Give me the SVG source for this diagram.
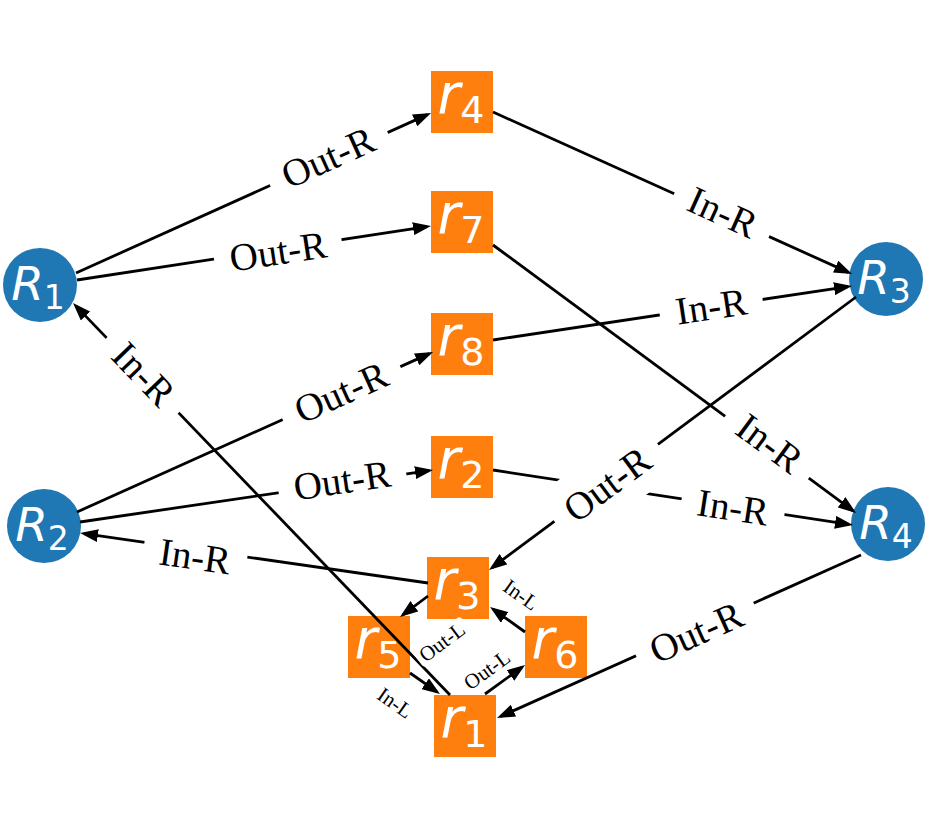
<svg xmlns="http://www.w3.org/2000/svg" width="931" height="821" viewBox="0 0 931 821">
<style>
.e{stroke:#000;stroke-width:2.8;fill:none;marker-end:url(#ah)}
.bx{fill:#fff;stroke:none}
.lb{font-family:"Liberation Serif","Times New Roman",serif;font-size:39px;fill:#000;text-anchor:middle;dominant-baseline:central}
.ls{font-family:"Liberation Serif","Times New Roman",serif;font-size:21px;fill:#000;text-anchor:middle;dominant-baseline:central}
.cn{fill:#1f77b4}
.sq{fill:#ff7f0e}
.nt{font-family:"DejaVu Sans",sans-serif;fill:#fff;text-anchor:middle}
.it{font-style:italic}
</style>
<defs>
<marker id="ah" markerWidth="18" markerHeight="13" refX="14" refY="6.5" orient="auto" markerUnits="userSpaceOnUse">
<path d="M0,0 L18,6.5 L0,13 z" fill="#000"/>
</marker>
</defs>
<g id="R1"><circle class="cn" cx="40" cy="285" r="37"/><text class="nt" x="38" y="300" font-size="47"><tspan class="it">R</tspan><tspan font-size="33" dy="9">1</tspan></text></g>
<g id="R2"><circle class="cn" cx="44" cy="526" r="37"/><text class="nt" x="42" y="541" font-size="47"><tspan class="it">R</tspan><tspan font-size="33" dy="9">2</tspan></text></g>
<g id="R3"><circle class="cn" cx="886" cy="279" r="37"/><text class="nt" x="884" y="294" font-size="47"><tspan class="it">R</tspan><tspan font-size="33" dy="9">3</tspan></text></g>
<g id="R4"><circle class="cn" cx="888" cy="524" r="37"/><text class="nt" x="886" y="539" font-size="47"><tspan class="it">R</tspan><tspan font-size="33" dy="9">4</tspan></text></g>
<g id="r4"><rect class="sq" x="431" y="71" width="62" height="62"/><text class="nt" x="461" y="113" font-size="55"><tspan class="it">r</tspan><tspan font-size="38" dy="10">4</tspan></text></g>
<g id="r7"><rect class="sq" x="431" y="191" width="62" height="62"/><text class="nt" x="461" y="233" font-size="55"><tspan class="it">r</tspan><tspan font-size="38" dy="10">7</tspan></text></g>
<g id="r8"><rect class="sq" x="431" y="313" width="62" height="62"/><text class="nt" x="461" y="355" font-size="55"><tspan class="it">r</tspan><tspan font-size="38" dy="10">8</tspan></text></g>
<g id="r2"><rect class="sq" x="431" y="436" width="62" height="62"/><text class="nt" x="461" y="478" font-size="55"><tspan class="it">r</tspan><tspan font-size="38" dy="10">2</tspan></text></g>
<g id="r3"><rect class="sq" x="427" y="557" width="62" height="62"/><text class="nt" x="457" y="599" font-size="55"><tspan class="it">r</tspan><tspan font-size="38" dy="10">3</tspan></text></g>
<g id="r5"><rect class="sq" x="348" y="616" width="62" height="62"/><text class="nt" x="378" y="658" font-size="55"><tspan class="it">r</tspan><tspan font-size="38" dy="10">5</tspan></text></g>
<g id="r6"><rect class="sq" x="525" y="616" width="62" height="62"/><text class="nt" x="555" y="658" font-size="55"><tspan class="it">r</tspan><tspan font-size="38" dy="10">6</tspan></text></g>
<g id="r1"><rect class="sq" x="434" y="695" width="62" height="62"/><text class="nt" x="464" y="737" font-size="55"><tspan class="it">r</tspan><tspan font-size="38" dy="10">1</tspan></text></g>
<g id="edges">
<line class="e" x1="76" y1="273" x2="427.4" y2="114.6"/>
<line class="e" x1="77" y1="280" x2="427" y2="226.6"/>
<line class="e" x1="493" y1="112" x2="848.4" y2="272.4"/>
<line class="e" x1="493" y1="245" x2="852.8" y2="510.6"/>
<line class="e" x1="493" y1="340" x2="848" y2="286.6"/>
<line class="e" x1="77" y1="512" x2="429.4" y2="353.6"/>
<line class="e" x1="80" y1="522" x2="429" y2="470.6"/>
<line class="e" x1="493" y1="470" x2="849" y2="524.4"/>
<line class="e" x1="856" y1="297" x2="492.2" y2="567.6"/>
<line class="e" x1="428" y1="583" x2="84" y2="533.6"/>
<line class="e" x1="450" y1="695" x2="75.8" y2="305.9"/>
<line class="e" x1="861" y1="555" x2="500.7" y2="716.4"/>
<line class="e" x1="428" y1="596" x2="403.2" y2="614.6"/>
<line class="e" x1="410" y1="673" x2="436.7" y2="691.7"/>
<line class="e" x1="485" y1="694" x2="521.8" y2="667.3"/>
<line class="e" x1="525" y1="632" x2="493.3" y2="609.3"/>
</g>
<g id="edge-labels">
<g transform="translate(328,157) rotate(-24.3)"><rect class="bx" x="-64.5" y="-32" width="129" height="64" rx="12"/><text class="lb">Out-R</text></g>
<g transform="translate(278,251) rotate(-8.7)"><rect class="bx" x="-64.5" y="-32" width="129" height="64" rx="12"/><text class="lb">Out-R</text></g>
<g transform="translate(723,212) rotate(24.3)"><rect class="bx" x="-52" y="-32" width="104" height="64" rx="12"/><text class="lb">In-R</text></g>
<g transform="translate(770,443) rotate(36.4)"><rect class="bx" x="-52" y="-32" width="104" height="64" rx="12"/><text class="lb">In-R</text></g>
<g transform="translate(711,306) rotate(-8.6)"><rect class="bx" x="-52" y="-32" width="104" height="64" rx="12"/><text class="lb">In-R</text></g>
<g transform="translate(341,392) rotate(-24.2)"><rect class="bx" x="-64.5" y="-32" width="129" height="64" rx="12"/><text class="lb">Out-R</text></g>
<g transform="translate(342,480) rotate(-8.4)"><rect class="bx" x="-64.5" y="-32" width="129" height="64" rx="12"/><text class="lb">Out-R</text></g>
<g transform="translate(733,507) rotate(8.7)"><rect class="bx" x="-52" y="-32" width="104" height="64" rx="12"/><text class="lb">In-R</text></g>
<g transform="translate(607,484) rotate(-36.6)"><rect class="bx" x="-64.5" y="-32" width="129" height="64" rx="12"/><text class="lb">Out-R</text></g>
<g transform="translate(195,556) rotate(8.2)"><rect class="bx" x="-52" y="-32" width="104" height="64" rx="12"/><text class="lb">In-R</text></g>
<g transform="translate(144,374) rotate(46.1)"><rect class="bx" x="-52" y="-32" width="104" height="64" rx="12"/><text class="lb">In-R</text></g>
<g transform="translate(696,632) rotate(-24.1)"><rect class="bx" x="-64.5" y="-32" width="129" height="64" rx="12"/><text class="lb">Out-R</text></g>
<g transform="translate(442,642) rotate(-36.9)"><rect class="bx" x="-30" y="-10" width="60" height="20" rx="4"/><text class="ls">Out-L</text></g>
<g transform="translate(395,703) rotate(35)"><rect class="bx" x="-22" y="-10" width="44" height="20" rx="4"/><text class="ls">In-L</text></g>
<g transform="translate(487,670) rotate(-36)"><rect class="bx" x="-30" y="-10" width="60" height="20" rx="4"/><text class="ls">Out-L</text></g>
<g transform="translate(521,595) rotate(35.5)"><rect class="bx" x="-22" y="-10" width="44" height="20" rx="4"/><text class="ls">In-L</text></g>
</g>
</svg>
